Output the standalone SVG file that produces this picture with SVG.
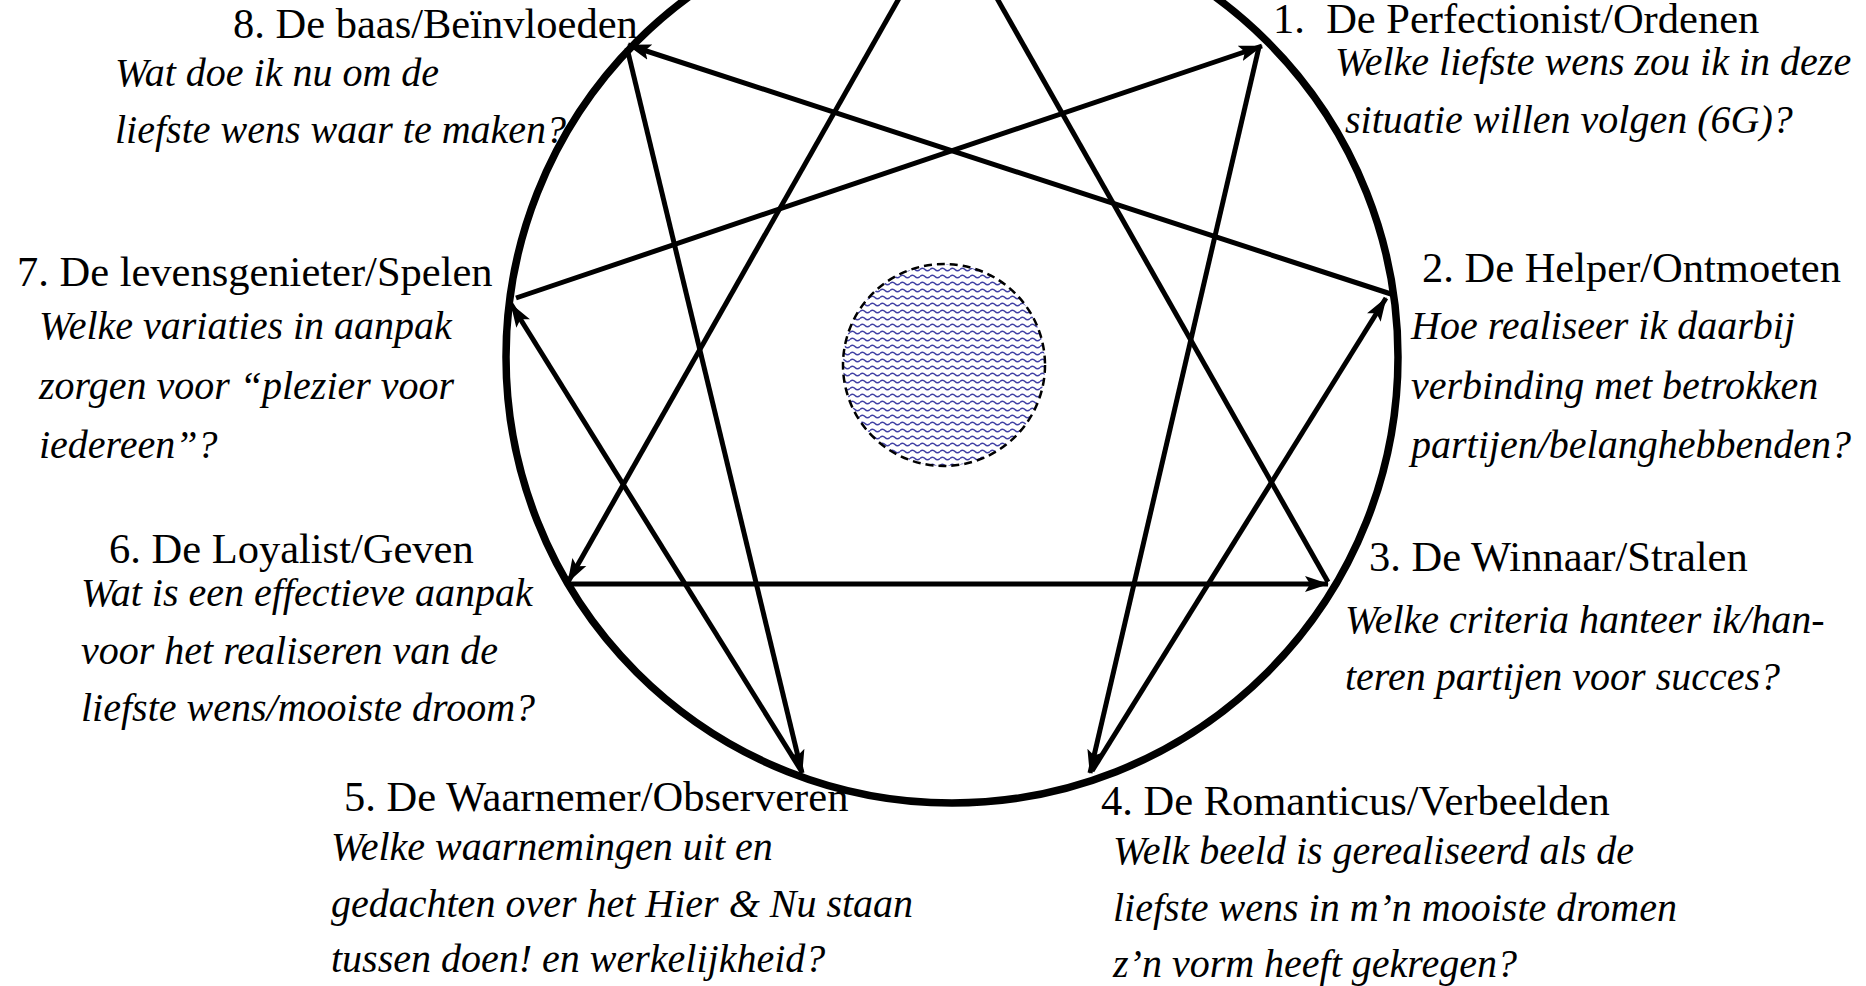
<svg xmlns="http://www.w3.org/2000/svg" width="1866" height="986" viewBox="0 0 1866 986">
<style>
  .h { font-family: "Liberation Serif", "Times New Roman", serif; font-size: 42.5px; fill: #000; }
  .q { font-family: "Liberation Serif", "Times New Roman", serif; font-size: 40px; font-style: italic; fill: #000; }
  .ln { stroke: #000; stroke-width: 5; fill: none; }
</style>
<defs>
  <marker id="arr" markerUnits="userSpaceOnUse" markerWidth="24" markerHeight="18" viewBox="0 0 24 18" refX="23" refY="9" orient="auto">
    <path d="M0,1 L24,9 L0,17 L5,9 Z" fill="#000"/>
  </marker>
  <pattern id="waves" patternUnits="userSpaceOnUse" width="10" height="7">
    <rect width="10" height="7" fill="#fff"/>
    <path d="M0 3.5 Q2.5 0.8 5 3.5 T10 3.5" stroke="#4040a4" stroke-width="1.5" fill="none"/>
  </pattern>
</defs>
<rect width="1866" height="986" fill="#fff"/>

<g id="ring">
  <circle cx="952" cy="357" r="446" fill="none" stroke="#000" stroke-width="7.5"/>
</g>

<g id="center">
  <circle cx="944" cy="365" r="101" fill="url(#waves)" stroke="#000" stroke-width="2.5" stroke-dasharray="8 5"/>
</g>

<g id="connectors">
  <line class="ln" x1="516" y1="298" x2="1262" y2="46" marker-end="url(#arr)"/>
  <line class="ln" x1="1259" y1="47" x2="1090" y2="773" marker-end="url(#arr)"/>
  <line class="ln" x1="1092" y1="771" x2="1386" y2="298" marker-end="url(#arr)"/>
  <line class="ln" x1="1391" y1="294" x2="628" y2="45" marker-end="url(#arr)"/>
  <line class="ln" x1="627" y1="48" x2="802" y2="773" marker-end="url(#arr)"/>
  <line class="ln" x1="802" y1="772" x2="511" y2="304" marker-end="url(#arr)"/>
  <line class="ln" x1="948" y1="-88" x2="568" y2="582" marker-end="url(#arr)"/>
  <line class="ln" x1="568" y1="584" x2="1328" y2="584" stroke-width="3.5" marker-end="url(#arr)"/>
  <line class="ln" x1="1328" y1="582" x2="948" y2="-88"/>
</g>

<g id="node-8">
  <text class="h" x="233" y="38">8. De baas/Beïnvloeden</text>
  <text class="q" x="115" y="86">Wat doe ik nu om de</text>
  <text class="q" x="115" y="143">liefste wens waar te maken?</text>
</g>
<g id="node-1">
  <text class="h" x="1273" y="33" xml:space="preserve">1.  De Perfectionist/Ordenen</text>
  <text class="q" x="1335" y="75">Welke liefste wens zou ik in deze</text>
  <text class="q" x="1345" y="133">situatie willen volgen (6G)?</text>
</g>
<g id="node-7">
  <text class="h" x="17" y="286">7. De levensgenieter/Spelen</text>
  <text class="q" x="39" y="339">Welke variaties in aanpak</text>
  <text class="q" x="39" y="399">zorgen voor “plezier voor</text>
  <text class="q" x="39" y="458">iedereen”?</text>
</g>
<g id="node-2">
  <text class="h" x="1422" y="282">2. De Helper/Ontmoeten</text>
  <text class="q" x="1411" y="339">Hoe realiseer ik daarbij</text>
  <text class="q" x="1411" y="399">verbinding met betrokken</text>
  <text class="q" x="1411" y="458">partijen/belanghebbenden?</text>
</g>
<g id="node-6">
  <text class="h" x="109" y="563">6. De Loyalist/Geven</text>
  <text class="q" x="81" y="606">Wat is een effectieve aanpak</text>
  <text class="q" x="81" y="664">voor het realiseren van de</text>
  <text class="q" x="81" y="721">liefste wens/mooiste droom?</text>
</g>
<g id="node-3">
  <text class="h" x="1369" y="571">3. De Winnaar/Stralen</text>
  <text class="q" x="1345" y="633">Welke criteria hanteer ik/han-</text>
  <text class="q" x="1345" y="690">teren partijen voor succes?</text>
</g>
<g id="node-5">
  <text class="h" x="344" y="811">5. De Waarnemer/Observeren</text>
  <text class="q" x="331" y="860">Welke waarnemingen uit en</text>
  <text class="q" x="331" y="917">gedachten over het Hier &amp; Nu staan</text>
  <text class="q" x="331" y="972">tussen doen! en werkelijkheid?</text>
</g>
<g id="node-4">
  <text class="h" x="1101" y="815">4. De Romanticus/Verbeelden</text>
  <text class="q" x="1113" y="864">Welk beeld is gerealiseerd als de</text>
  <text class="q" x="1113" y="921">liefste wens in m’n mooiste dromen</text>
  <text class="q" x="1113" y="977">z’n vorm heeft gekregen?</text>
</g>
</svg>
